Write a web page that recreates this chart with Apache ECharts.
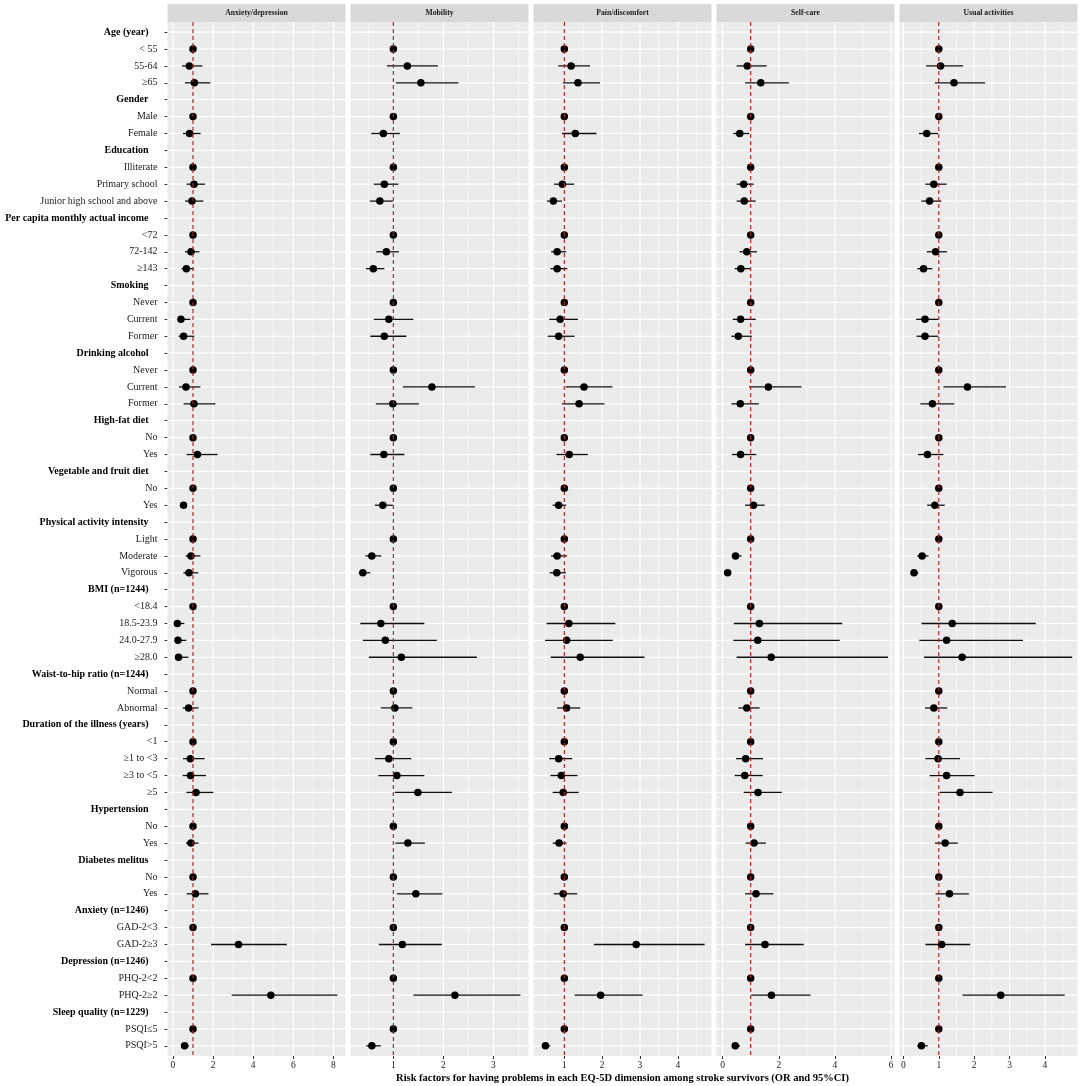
<!DOCTYPE html>
<html>
<head>
<meta charset="utf-8">
<script src="https://cdn.jsdelivr.net/npm/echarts@6/dist/echarts.min.js"></script>
<style>
html,body{margin:0;padding:0;background:#fff;}
#chart{width:1084px;height:1086px;}
</style>
</head>
<body>
<div id="chart"></div>
<script>
const _ = null;

const categories = [
  'Age (year)', '< 55', '55-64', '≥65',
  'Gender', 'Male', 'Female',
  'Education', 'Illiterate', 'Primary school', 'Junior high school and above',
  'Per capita monthly actual income', '<72', '72-142', '≥143',
  'Smoking', 'Never', 'Current', 'Former',
  'Drinking alcohol', 'Never', 'Current', 'Former',
  'High-fat diet', 'No', 'Yes',
  'Vegetable and fruit diet', 'No', 'Yes',
  'Physical activity intensity', 'Light', 'Moderate', 'Vigorous',
  'BMI (n=1244)', '<18.4', '18.5-23.9', '24.0-27.9', '≥28.0',
  'Waist-to-hip ratio (n=1244)', 'Normal', 'Abnormal',
  'Duration of the illness (years)', '<1', '≥1 to <3', '≥3 to <5', '≥5',
  'Hypertension', 'No', 'Yes',
  'Diabetes melitus', 'No', 'Yes',
  'Anxiety (n=1246)', 'GAD-2<3', 'GAD-2≥3',
  'Depression (n=1246)', 'PHQ-2<2', 'PHQ-2≥2',
  'Sleep quality (n=1229)', 'PSQI≤5', 'PSQI>5'
];

const headers = [
  'Age (year)', 'Gender', 'Education', 'Per capita monthly actual income', 'Smoking',
  'Drinking alcohol', 'High-fat diet', 'Vegetable and fruit diet', 'Physical activity intensity',
  'BMI (n=1244)', 'Waist-to-hip ratio (n=1244)', 'Duration of the illness (years)',
  'Hypertension', 'Diabetes melitus', 'Anxiety (n=1246)', 'Depression (n=1246)', 'Sleep quality (n=1229)'
];

const dimensions = ['Anxiety/depression', 'Mobility', 'Pain/discomfort', 'Self-care', 'Usual activities'];

// Anxiety/depression
const anxOR = [_,1,0.82,1.07, _,1,0.83, _,1,1.05,0.95, _,1,0.90,0.67, _,1,0.40,0.53, _,1,0.65,1.05, _,1,1.22, _,1,0.53, _,1,0.90,0.80, _,1,0.22,0.25,0.28, _,1,0.78, _,1,0.87,0.88,1.15, _,1,0.90, _,1,1.12, _,1,3.27, _,1,4.88, _,1,0.58];
const anxLo = [_,_,0.45,0.60, _,_,0.50, _,_,0.68,0.60, _,_,0.60,0.43, _,_,0.22,0.28, _,_,0.30,0.53, _,_,0.68, _,_,0.42, _,_,0.63,0.52, _,_,0.08,0.12,0.15, _,_,0.48, _,_,0.50,0.48,0.67, _,_,0.65, _,_,0.68, _,_,1.90, _,_,2.93, _,_,0.42];
const anxHi = [_,_,1.47,1.87, _,_,1.38, _,_,1.60,1.52, _,_,1.32,1.05, _,_,0.87,1.07, _,_,1.37,2.12, _,_,2.23, _,_,0.70, _,_,1.37,1.27, _,_,0.57,0.67,0.77, _,_,1.28, _,_,1.58,1.65,2.02, _,_,1.28, _,_,1.77, _,_,5.68, _,_,8.20, _,_,0.80];

// Mobility
const mobOR = [_,1,1.28,1.55, _,1,0.80, _,1,0.82,0.73, _,1,0.86,0.60, _,1,0.91,0.82, _,1,1.77,0.99, _,1,0.81, _,1,0.79, _,1,0.57,0.39, _,1,0.75,0.84,1.16, _,1,1.03, _,1,0.91,1.07,1.49, _,1,1.29, _,1,1.45, _,1,1.18, _,1,2.23, _,1,0.57];
const mobLo = [_,_,0.87,1.05, _,_,0.56, _,_,0.61,0.53, _,_,0.66,0.45, _,_,0.61,0.54, _,_,1.19,0.65, _,_,0.54, _,_,0.63, _,_,0.44,0.31, _,_,0.34,0.39,0.51, _,_,0.75, _,_,0.63,0.70,1.03, _,_,1.04, _,_,1.07, _,_,0.71, _,_,1.40, _,_,0.46];
const mobHi = [_,_,1.89,2.30, _,_,1.13, _,_,1.10,0.99, _,_,1.11,0.82, _,_,1.40,1.26, _,_,2.63,1.51, _,_,1.22, _,_,0.99, _,_,0.76,0.54, _,_,1.62,1.87,2.67, _,_,1.38, _,_,1.36,1.62,2.17, _,_,1.63, _,_,1.98, _,_,1.97, _,_,3.54, _,_,0.75];

// Pain/discomfort
const painOR = [_,1,1.18,1.36, _,1,1.29, _,1,0.95,0.71, _,1,0.81,0.81, _,1,0.89,0.85, _,1,1.52,1.39, _,1,1.13, _,1,0.85, _,1,0.81,0.80, _,1,1.12,1.06,1.42, _,1,1.06, _,1,0.85,0.92,0.97, _,1,0.86, _,1,0.97, _,1,2.90, _,1,1.96, _,1,0.50];
const painLo = [_,_,0.84,0.96, _,_,0.94, _,_,0.73,0.54, _,_,0.65,0.63, _,_,0.60,0.56, _,_,1.04,0.94, _,_,0.79, _,_,0.69, _,_,0.65,0.61, _,_,0.53,0.49,0.64, _,_,0.81, _,_,0.60,0.63,0.69, _,_,0.69, _,_,0.72, _,_,1.78, _,_,1.27, _,_,0.42];
const painHi = [_,_,1.68,1.94, _,_,1.85, _,_,1.26,0.94, _,_,1.05,1.08, _,_,1.36,1.27, _,_,2.27,2.06, _,_,1.62, _,_,1.05, _,_,1.07,1.04, _,_,2.35,2.28,3.12, _,_,1.42, _,_,1.21,1.35,1.38, _,_,1.06, _,_,1.34, _,_,4.71, _,_,3.07, _,_,0.63];

// Self-care
const selfOR = [_,1,0.88,1.36, _,1,0.61, _,1,0.75,0.77, _,1,0.86,0.65, _,1,0.64,0.56, _,1,1.63,0.63, _,1,0.64, _,1,1.10, _,1,0.46,0.18, _,1,1.31,1.25,1.73, _,1,0.86, _,1,0.82,0.79,1.26, _,1,1.12, _,1,1.19, _,1,1.51, _,1,1.74, _,1,0.45];
const selfLo = [_,_,0.50,0.80, _,_,0.38, _,_,0.50,0.50, _,_,0.60,0.43, _,_,0.36,0.31, _,_,0.94,0.31, _,_,0.33, _,_,0.80, _,_,0.33,0.08, _,_,0.40,0.38,0.50, _,_,0.56, _,_,0.48,0.43,0.75, _,_,0.82, _,_,0.80, _,_,0.80, _,_,1.02, _,_,0.36];
const selfHi = [_,_,1.57,2.36, _,_,0.95, _,_,1.11,1.18, _,_,1.23,0.99, _,_,1.18,1.04, _,_,2.81,1.29, _,_,1.20, _,_,1.50, _,_,0.68,0.30, _,_,4.26,4.17,5.89, _,_,1.32, _,_,1.44,1.43,2.11, _,_,1.54, _,_,1.81, _,_,2.89, _,_,3.13, _,_,0.62];

// Usual activities
const usualOR = [_,1,1.05,1.43, _,1,0.66, _,1,0.86,0.74, _,1,0.91,0.57, _,1,0.61,0.61, _,1,1.81,0.82, _,1,0.68, _,1,0.89, _,1,0.53,0.30, _,1,1.38,1.22,1.66, _,1,0.86, _,1,0.98,1.22,1.60, _,1,1.18, _,1,1.30, _,1,1.08, _,1,2.75, _,1,0.51];
const usualLo = [_,_,0.64,0.89, _,_,0.44, _,_,0.62,0.51, _,_,0.66,0.39, _,_,0.36,0.37, _,_,1.13,0.48, _,_,0.41, _,_,0.67, _,_,0.39,0.21, _,_,0.51,0.45,0.58, _,_,0.61, _,_,0.62,0.74,1.03, _,_,0.89, _,_,0.91, _,_,0.62, _,_,1.67, _,_,0.39];
const usualHi = [_,_,1.69,2.31, _,_,0.98, _,_,1.22,1.07, _,_,1.23,0.82, _,_,0.99,0.99, _,_,2.90,1.44, _,_,1.13, _,_,1.17, _,_,0.71,0.42, _,_,3.74,3.38,4.77, _,_,1.24, _,_,1.60,2.01,2.52, _,_,1.54, _,_,1.85, _,_,1.89, _,_,4.56, _,_,0.69];

const refValue = 1;

// axis ranges and tick labels per panel
const xMins = [-0.27, 0.144, 0.185, -0.217, -0.11];
const xMaxs = [8.6, 3.70, 4.89, 6.12, 4.92];
const majorTicks = [[0,2,4,6,8],[1,2,3],[1,2,3,4],[0,2,4,6],[0,1,2,3,4]];
const minorTicks = [[1,3,5,7],[0.5,1.5,2.5,3.5],[0.5,1.5,2.5,3.5,4.5],[1,3,5],[0.5,1.5,2.5,3.5,4.5]];

const xTitle = 'Risk factors for having problems in each EQ-5D dimension among stroke survivors (OR and 95%CI)';

const ORs = [anxOR, mobOR, painOR, selfOR, usualOR];
const LOs = [anxLo, mobLo, painLo, selfLo, usualLo];
const HIs = [anxHi, mobHi, painHi, selfHi, usualHi];

// ---- layout ----
const SERIF = '"Liberation Serif", "Times New Roman", serif';
const panelLefts = [167.5, 350.5, 533.5, 716.5, 899.5];
const panelW = 178;
const panelTop = 22;
const panelH = 1034;
const stripTop = 4;
const rowIdx = categories.map((c, k) => k);
const yPad = 0.6;

const chart = echarts.init(document.getElementById('chart'), null, {renderer: 'canvas'});

const grids = [], xAxes = [], yAxes = [], series = [], graphics = [];

function vLine(color, width, dash) {
  return function (params, api) {
    const cs = params.coordSys;
    const x = api.coord([api.value(0), 0])[0];
    return {
      type: 'line',
      shape: {x1: x, y1: cs.y, x2: x, y2: cs.y + cs.height},
      style: {stroke: color, lineWidth: width, lineDash: dash || null}
    };
  };
}

dimensions.forEach((dim, i) => {
  grids.push({
    left: panelLefts[i], top: panelTop, width: panelW, height: panelH,
    show: true, backgroundColor: '#EBEBEB', borderWidth: 0, containLabel: false
  });
  xAxes.push({
    type: 'value', gridIndex: i, min: xMins[i], max: xMaxs[i], position: 'bottom',
    axisLine: {show: false, onZero: false},
    axisTick: {show: true, length: 3, customValues: majorTicks[i], lineStyle: {color: '#333', width: 1}},
    axisLabel: {customValues: majorTicks[i], fontFamily: SERIF, fontSize: 9.5, color: '#222', margin: 4},
    splitLine: {show: false}
  });
  yAxes.push({
    type: 'value', gridIndex: i, inverse: true, position: 'left',
    min: -yPad, max: categories.length - 1 + yPad,
    axisLine: {show: false, onZero: false},
    axisTick: {show: i === 0, length: 3, customValues: rowIdx, lineStyle: {color: '#333'}},
    axisLabel: {
      show: i === 0, margin: 10, customValues: rowIdx,
      formatter: (v) => {
        const t = categories[Math.round(v)];
        return headers.indexOf(t) >= 0 ? '{h|' + t + '}' : '{n|' + t + '}';
      },
      rich: {
        h: {fontFamily: SERIF, fontWeight: 'bold', fontSize: 10, color: '#000', padding: [0, 9, 0, 0]},
        n: {fontFamily: SERIF, fontSize: 10, color: '#1a1a1a'}
      }
    },
    splitLine: {show: false}
  });

  // minor vertical grid lines
  series.push({
    type: 'custom', xAxisIndex: i, yAxisIndex: i, z: 1, silent: true,
    data: minorTicks[i].map(v => [v, 0]),
    encode: {x: 0, y: 1},
    renderItem: vLine('#ffffff', 0.6)
  });
  // major vertical grid lines
  series.push({
    type: 'custom', xAxisIndex: i, yAxisIndex: i, z: 1, silent: true,
    data: majorTicks[i].map(v => [v, 0]),
    encode: {x: 0, y: 1},
    renderItem: vLine('#ffffff', 1.2)
  });
  // horizontal grid lines at each row
  series.push({
    type: 'custom', xAxisIndex: i, yAxisIndex: i, z: 1, silent: true,
    data: rowIdx.map(k => [xMins[i], k]),
    encode: {x: 0, y: 1},
    renderItem: function (params, api) {
      const cs = params.coordSys;
      const y = api.coord([api.value(0), api.value(1)])[1];
      return {
        type: 'line',
        shape: {x1: cs.x, y1: y, x2: cs.x + cs.width, y2: y},
        style: {stroke: '#ffffff', lineWidth: 1.2}
      };
    }
  });
  // error bars
  const bars = [];
  LOs[i].forEach((lo, k) => { if (lo !== null) bars.push([lo, HIs[i][k], k]); });
  series.push({
    type: 'custom', xAxisIndex: i, yAxisIndex: i, z: 3, silent: true,
    data: bars,
    encode: {x: [0, 1], y: 2},
    renderItem: function (params, api) {
      const p1 = api.coord([api.value(0), api.value(2)]);
      const p2 = api.coord([api.value(1), api.value(2)]);
      return {
        type: 'line',
        shape: {x1: p1[0], y1: p1[1], x2: p2[0], y2: p2[1]},
        style: {stroke: '#111', lineWidth: 1.3}
      };
    }
  });
  // points
  const pts = [];
  ORs[i].forEach((v, k) => { if (v !== null) pts.push([v, k]); });
  series.push({
    type: 'scatter', xAxisIndex: i, yAxisIndex: i, z: 4, silent: true,
    data: pts, symbol: 'circle', symbolSize: 7.5,
    itemStyle: {color: '#000', opacity: 1}
  });
  // reference dashed line
  series.push({
    type: 'custom', xAxisIndex: i, yAxisIndex: i, z: 5, silent: true,
    data: [[refValue, 0]],
    encode: {x: 0, y: 1},
    renderItem: vLine('#B22222', 1.2, [4, 3])
  });

  // strip
  graphics.push({
    type: 'rect', left: panelLefts[i], top: stripTop,
    shape: {width: panelW, height: panelTop - stripTop},
    style: {fill: '#D9D9D9'}, silent: true
  });
  graphics.push({
    type: 'text', x: panelLefts[i] + panelW / 2, y: (stripTop + panelTop) / 2,
    style: {text: dim, fontFamily: SERIF, fontWeight: 'bold', fontSize: 7.7, fill: '#1A1A1A',
            textAlign: 'center', textVerticalAlign: 'middle'},
    silent: true
  });
});

graphics.push({
  type: 'text', x: (panelLefts[0] + panelLefts[4] + panelW) / 2, y: 1078,
  style: {text: xTitle, fontFamily: SERIF, fontWeight: 'bold', fontSize: 10.5, fill: '#000',
          textAlign: 'center', textVerticalAlign: 'middle'},
  silent: true
});

chart.setOption({
  animation: false,
  backgroundColor: '#ffffff',
  grid: grids,
  xAxis: xAxes,
  yAxis: yAxes,
  series: series,
  graphic: graphics
});
</script>
</body>
</html>
